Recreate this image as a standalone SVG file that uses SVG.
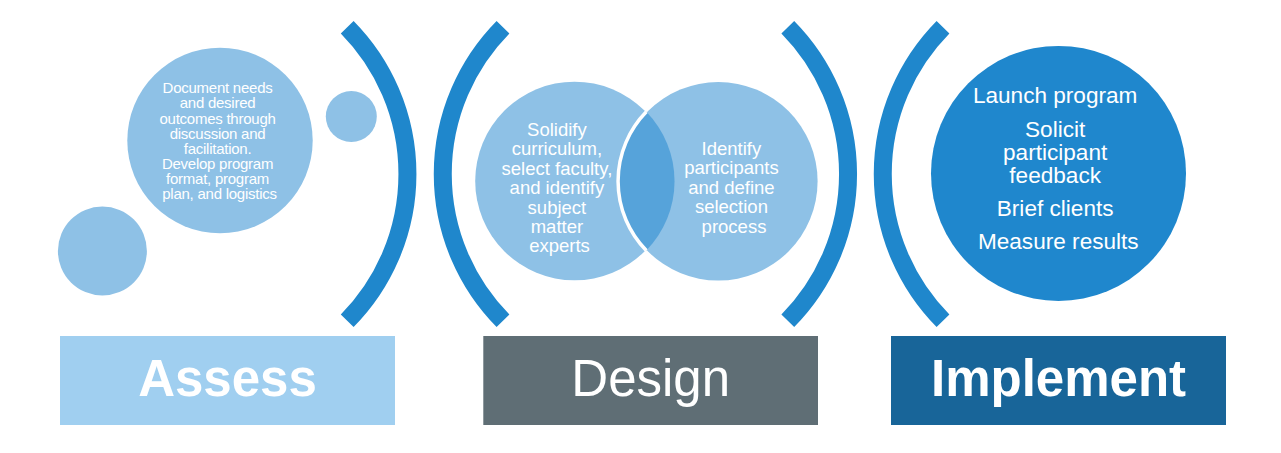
<svg xmlns="http://www.w3.org/2000/svg" width="1281" height="453" viewBox="0 0 1281 453">
<style>
.lc{fill:#8EC1E6}
.arc{fill:none;stroke:#1F87CC;stroke-width:18;stroke-linecap:butt}
.t{font-family:"Liberation Sans",Arial,sans-serif;fill:#fff;text-anchor:middle}
.s1{font-size:15px;letter-spacing:-0.25px}
.s2{font-size:18.5px}
.s3{font-size:22.6px}
.lab{font-size:51px}
.b{font-weight:bold}
</style>
<rect width="1281" height="453" fill="#fff"/>
<g id="brackets">
<path class="arc" d="M347.2,27.2 A209,209 0 0 1 347.2,320.8"/>
<path class="arc" d="M503,27.2 A209,209 0 0 0 503,320.8"/>
<path class="arc" d="M787.8,27.2 A209,209 0 0 1 787.8,320.8"/>
<path class="arc" d="M943,27.2 A209,209 0 0 0 943,320.8"/>
</g>
<g id="assess-circles">
<circle class="lc" cx="102.4" cy="251" r="44.5"/>
<circle class="lc" cx="351.3" cy="116.5" r="25.5"/>
<circle class="lc" cx="220" cy="140.5" r="92.7"/>
<text class="t s1" x="219.5">
<tspan x="219.5" y="93.3">Document needs</tspan>
<tspan x="219.5" y="108.4">and desired</tspan>
<tspan x="219.5" y="123.5">outcomes through</tspan>
<tspan x="219.5" y="138.6">discussion and</tspan>
<tspan x="219.5" y="153.7">facilitation.</tspan>
<tspan x="219.5" y="168.8">Develop program</tspan>
<tspan x="219.5" y="183.9">format, program</tspan>
<tspan x="219.5" y="199">plan, and logistics</tspan>
</text>
</g>
<g id="design-venn">
<circle class="lc" cx="574.5" cy="181" r="99.3"/>
<circle class="lc" cx="718.3" cy="181.3" r="99.3"/>
<path d="M646.3,111.8 A99.3,99.3 0 0 1 646.3,250.5 A99.3,99.3 0 0 1 646.3,111.8 Z" fill="#56A3DA"/>
<path d="M646.3,111.8 A99.3,99.3 0 0 0 646.3,250.5" fill="none" stroke="#fff" stroke-width="3.5"/>
<text class="t s2">
<tspan x="559.5" y="136">Solidify</tspan>
<tspan x="559.5" y="155.4">curriculum,</tspan>
<tspan x="559.5" y="174.8">select faculty,</tspan>
<tspan x="559.5" y="194.2">and identify</tspan>
<tspan x="559.5" y="213.6">subject</tspan>
<tspan x="559.5" y="233">matter</tspan>
<tspan x="559.5" y="252.4">experts</tspan>
</text>
<text class="t s2">
<tspan x="734" y="155">Identify</tspan>
<tspan x="734" y="174.4">participants</tspan>
<tspan x="734" y="193.8">and define</tspan>
<tspan x="734" y="213.2">selection</tspan>
<tspan x="734" y="232.6">process</tspan>
</text>
</g>
<g id="implement-circle">
<circle cx="1058.5" cy="173.4" r="127.5" fill="#1F87CD"/>
<text class="t s3">
<tspan x="1058.3" y="103.3">Launch program</tspan>
<tspan x="1058.3" y="136.7">Solicit</tspan>
<tspan x="1058.3" y="160">participant</tspan>
<tspan x="1058.3" y="183.3">feedback</tspan>
<tspan x="1058.3" y="216">Brief clients</tspan>
<tspan x="1058.3" y="249.3">Measure results</tspan>
</text>
</g>
<g id="assess-label">
<rect x="60" y="336" width="335" height="89" fill="#A0CFF0"/>
<text class="t lab b" x="227.5" y="396">Assess</text>
</g>
<g id="design-label">
<rect x="483.3" y="336" width="334.7" height="89" fill="#5F6E75"/>
<text class="t lab" x="650.7" y="396">Design</text>
</g>
<g id="implement-label">
<rect x="891" y="336" width="335" height="89" fill="#186599"/>
<text class="t lab b" x="1058.5" y="396">Implement</text>
</g>
</svg>
